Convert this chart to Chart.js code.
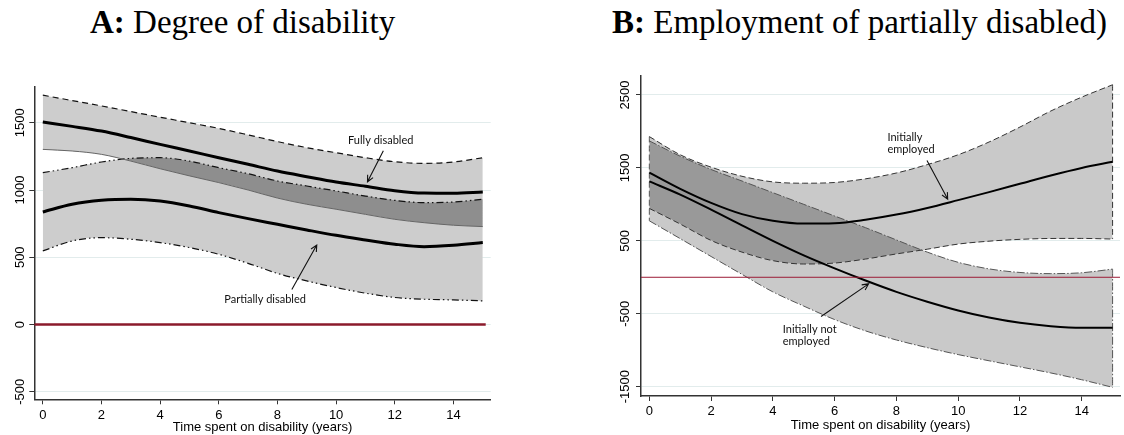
<!DOCTYPE html>
<html>
<head>
<meta charset="utf-8">
<script src="https://cdn.jsdelivr.net/npm/chart.js@4.4.0/dist/chart.umd.min.js"></script>
<style>
  body { margin: 0; background: #fff; width: 1124px; height: 435px; position: relative; overflow: hidden; }
  .ttl { position: absolute; top: 4px; font-family: 'Liberation Serif', serif; font-size: 33px; white-space: nowrap; color: #000; }
  canvas { position: absolute; top: 60px; }
</style>
</head>
<body>
<div class="ttl" style="left:90px"><b>A:</b> Degree of disability</div>
<div class="ttl" style="left:612px"><b>B:</b> Employment of partially disabled)</div>
<canvas id="chartA" width="560" height="375" style="left:0"></canvas>
<canvas id="chartB" width="564" height="375" style="left:560px"></canvas>
<script>
const years = [0, 1, 2, 3, 4, 5, 6, 7, 8, 9, 10, 11, 12, 13, 14, 15];
const xTicks = [0, 2, 4, 6, 8, 10, 12, 14];
const yTicksA = [-500, 0, 500, 1000, 1500];
const yTicksB = [-1500, -500, 500, 1500, 2500];

// panel A: fully vs partially disabled (estimate + 95% band)
const fullyHi  = [1705, 1665, 1625, 1583, 1541, 1500, 1458, 1410, 1360, 1315, 1277, 1240, 1210, 1198, 1208, 1240];
const fullyMid = [1505, 1473, 1438, 1390, 1339, 1290, 1240, 1191, 1141, 1099, 1059, 1028, 995, 977, 975, 985];
const fullyLo  = [1302, 1290, 1265, 1215, 1158, 1105, 1055, 1000, 940, 894, 857, 819, 782, 757, 738, 728];
const partHi   = [1129, 1166, 1208, 1235, 1240, 1215, 1166, 1121, 1067, 1030, 993, 955, 923, 906, 911, 931];
const partMid  = [837, 894, 923, 931, 918, 881, 832, 787, 745, 703, 663, 629, 597, 579, 589, 609];
const partLo   = [547, 621, 646, 634, 609, 572, 522, 455, 380, 324, 275, 233, 201, 188, 183, 176];

// panel B: initially employed vs initially not employed
const empHi  = [1929, 1680, 1510, 1385, 1308, 1290, 1300, 1350, 1430, 1545, 1680, 1855, 2060, 2280, 2470, 2640];
const empMid = [1435, 1213, 1020, 866, 775, 736, 741, 789, 860, 951, 1058, 1168, 1282, 1396, 1499, 1583];
const empLo  = [944, 730, 505, 345, 228, 182, 195, 250, 320, 385, 455, 495, 520, 532, 533, 524];
const notHi  = [1870, 1660, 1478, 1320, 1160, 1000, 840, 680, 512, 345, 205, 115, 66, 50, 62, 112];
const notMid = [1315, 1134, 928, 712, 499, 300, 122, -45, -200, -335, -455, -552, -625, -670, -692, -692];
const notLo  = [774, 530, 285, 40, -200, -395, -580, -735, -860, -965, -1060, -1145, -1228, -1312, -1405, -1509];

const pts = arr => years.map((x, i) => ({ x: x, y: arr[i] }));
const first = years[0], last = years[years.length - 1];

// band fill (no border) / plain line helpers
function band(arr, target, above, below, order) {
  return { data: pts(arr), borderWidth: 0, pointRadius: 0, order: order,
           fill: { target: target, above: above, below: below } };
}
function line(data, color, width, dash, order) {
  return { data: data, borderColor: color, borderWidth: width, borderDash: dash || [],
           pointRadius: 0, fill: false, order: order };
}

// text labels and arrows placed in data units
const notesPlugin = {
  id: 'notes',
  afterDatasetsDraw(chart, args, opts) {
    const { ctx, scales: { x, y } } = chart;
    ctx.save();
    ctx.font = '11px Lato';
    ctx.fillStyle = '#111';
    ctx.strokeStyle = '#111';
    ctx.lineWidth = 1.1;
    (opts.labels || []).forEach(l => {
      ctx.textAlign = l.align || 'center';
      ctx.textBaseline = 'middle';
      l.lines.forEach((t, i) => ctx.fillText(t, x.getPixelForValue(l.x), y.getPixelForValue(l.y) + i * 12.5));
    });
    (opts.arrows || []).forEach(a => {
      const x0 = x.getPixelForValue(a.from[0]), y0 = y.getPixelForValue(a.from[1]);
      const x1 = x.getPixelForValue(a.to[0]), y1 = y.getPixelForValue(a.to[1]);
      const ang = Math.atan2(y1 - y0, x1 - x0);
      ctx.beginPath();
      ctx.moveTo(x0, y0);
      ctx.lineTo(x1, y1);
      ctx.moveTo(x1 - 7 * Math.cos(ang - 0.45), y1 - 7 * Math.sin(ang - 0.45));
      ctx.lineTo(x1, y1);
      ctx.lineTo(x1 - 7 * Math.cos(ang + 0.45), y1 - 7 * Math.sin(ang + 0.45));
      ctx.stroke();
    });
    ctx.restore();
  }
};

const tickFont = { family: 'Liberation Sans', size: 13 };

function axes(xMin, xMax, yMin, yMax, yTicks, yWidth, xHeight, yPad, titlePad) {
  return {
    x: {
      type: 'linear', min: xMin, max: xMax,
      afterBuildTicks: s => { s.ticks = xTicks.map(v => ({ value: v })); },
      afterFit: s => { s.height = xHeight; },
      grid: { drawOnChartArea: false, color: '#333', tickLength: 5 },
      border: { display: true, color: '#333', width: 1.5 },
      ticks: { font: tickFont, color: '#000', padding: 3, autoSkip: false, maxRotation: 0,
               callback: v => String(v) },
      title: { display: true, text: 'Time spent on disability (years)', font: tickFont, color: '#000',
               padding: { top: 0, bottom: titlePad } }
    },
    y: {
      type: 'linear', min: yMin, max: yMax,
      afterBuildTicks: s => { s.ticks = yTicks.map(v => ({ value: v })); },
      afterFit: s => { s.width = yWidth; },
      grid: { color: '#e2ecec', tickColor: '#333', tickLength: 5 },
      border: { display: true, color: '#333', width: 1.5 },
      ticks: { font: tickFont, color: '#000', minRotation: 90, maxRotation: 90,
               crossAlign: 'center', padding: yPad, autoSkip: false,
               callback: v => String(v) }
    }
  };
}

const common = {
  responsive: false,
  animation: false,
  devicePixelRatio: 1,
  plugins: { legend: { display: false }, tooltip: { enabled: false } },
  elements: { line: { cubicInterpolationMode: 'monotone' } }
};

// ---- Panel A ----
const lightA = '#cdcdcd', darkA = '#8e8e8e';
const xMinA = -0.29, xMaxA = 15.27;
new Chart(document.getElementById('chartA'), {
  type: 'line',
  data: {
    datasets: [
      band(fullyHi, 1, lightA, lightA, 20),
      band(fullyLo, false, null, null, 20),
      band(partHi, 3, lightA, lightA, 19),
      band(partLo, false, null, null, 19),
      band(partHi, 1, darkA, 'rgba(0,0,0,0)', 15),
      line(pts(fullyHi), '#111', 1.2, [6, 4], 5),
      line(pts(fullyLo), '#666', 1, [], 5),
      line(pts(partHi), '#111', 1.2, [7, 3, 1.5, 3, 1.5, 3], 5),
      line(pts(partLo), '#111', 1.2, [7, 3, 1.5, 3, 1.5, 3], 5),
      line(pts(fullyMid), '#000', 3, [], 2),
      line(pts(partMid), '#000', 3, [], 2),
      line([{ x: xMinA, y: 0 }, { x: 15.1, y: 0 }], '#8b1a2b', 2.5, [], 1)
    ]
  },
  options: Object.assign({}, common, {
    layout: { padding: { left: 0, top: 26.7, right: 69.3, bottom: 0 } },
    scales: axes(xMinA, xMaxA, -556, 1768, yTicksA, 34.3, 35.7, -6, 0),
    plugins: Object.assign({}, common.plugins, {
      notes: {
        labels: [
          { lines: ['Fully disabled'], x: 11.52, y: 1371 },
          { lines: ['Partially disabled'], x: 7.58, y: 187 }
        ],
        arrows: [
          { from: [11.61, 1292], to: [11.07, 1061] },
          { from: [8.49, 261], to: [9.34, 591] }
        ]
      }
    })
  }),
  plugins: [notesPlugin]
});

// ---- Panel B ----
const lightB = '#c9c9c9', darkB = '#999999';
const xMinB = -0.27, xMaxB = 15.24;
const dashE = [6, 3], dashN = [8, 2, 1.5, 2];
new Chart(document.getElementById('chartB'), {
  type: 'line',
  data: {
    datasets: [
      band(empHi, 1, lightB, lightB, 20),
      band(empLo, false, null, null, 20),
      band(notHi, 3, lightB, lightB, 19),
      band(notLo, false, null, null, 19),
      band(notHi, 1, darkB, 'rgba(0,0,0,0)', 15),
      line(pts(empHi), '#333', 1, dashE, 5),
      line(pts(empLo), '#333', 1, dashE, 5),
      line(pts(notHi), '#555', 1, dashN, 5),
      line(pts(notLo), '#555', 1, dashN, 5),
      line([{ x: first, y: empHi[0] }, { x: first, y: notLo[0] }], '#555', 1, dashE, 5),
      line([{ x: last, y: empHi[15] }, { x: last, y: empLo[15] }], '#333', 1, dashE, 5),
      line([{ x: last, y: notHi[15] }, { x: last, y: notLo[15] }], '#555', 1, dashN, 5),
      line(pts(empMid), '#000', 2, [], 2),
      line(pts(notMid), '#000', 2, [], 2),
      line([{ x: xMinB, y: 0 }, { x: xMaxB, y: 0 }], '#9b1b36', 1, [], 1)
    ]
  },
  options: Object.assign({}, common, {
    layout: { padding: { left: 46, top: 16, right: 4, bottom: 0 } },
    scales: axes(xMinB, xMaxB, -1628, 2760, yTicksB, 35, 39, -5.6, 2),
    plugins: Object.assign({}, common.plugins, {
      notes: {
        labels: [
          { lines: ['Initially', 'employed'], x: 7.71, y: 1922, align: 'left' },
          { lines: ['Initially not', 'employed'], x: 4.32, y: -711, align: 'left' }
        ],
        arrows: [
          { from: [8.99, 1601], to: [9.66, 1072] },
          { from: [5.56, -538], to: [7.10, -90] }
        ]
      }
    })
  }),
  plugins: [notesPlugin]
});
</script>
</body>
</html>
